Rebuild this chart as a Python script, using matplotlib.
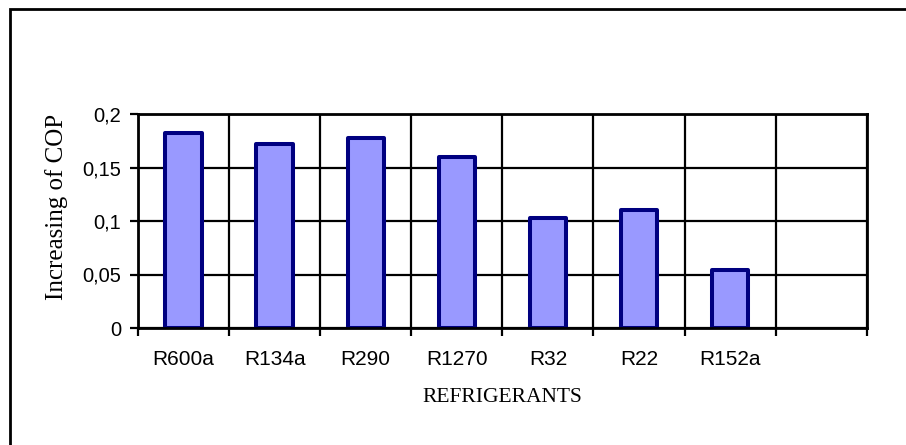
import matplotlib
matplotlib.use("Agg")
import matplotlib.pyplot as plt
from matplotlib.patches import Rectangle
import numpy as np

categories = ["R600a", "R134a", "R290", "R1270", "R32", "R22", "R152a", ""]
values = [0.182, 0.172, 0.178, 0.160, 0.103, 0.110, 0.054]
yticks = [0, 0.05, 0.10, 0.15, 0.20]
ytick_labels = ["0", "0,05", "0,1", "0,15", "0,2"]
xlabel = "REFRIGERANTS"
ylabel = "Increasing of COP"

fig = plt.figure(figsize=(9.06, 4.45), dpi=100)
ax = fig.add_axes([138/906, 1-328/445, (866.7-138)/906, (328-114)/445])

n = len(categories)
centers = np.arange(n) + 0.5
bars = ax.bar(centers[:len(values)], values, width=0.4, color="#9999FF",
              edgecolor="#000080", linewidth=2.9, zorder=3)
for b in bars:
    b.set_joinstyle("round")

ax.set_xlim(0, n)
ax.set_ylim(0, 0.2)
ax.set_yticks(yticks)
ax.set_yticklabels(ytick_labels, fontfamily="Liberation Sans", fontsize=14.5)
ax.set_xticks(np.arange(n + 1))
ax.set_xticklabels([])
ax.set_xticks(centers, minor=True)
ax.set_xticklabels(categories, minor=True, fontfamily="Liberation Sans", fontsize=15)
ax.tick_params(axis="x", which="minor", length=0, pad=16)
ax.tick_params(axis="x", which="major", length=6, width=1.6, direction="out")
ax.tick_params(axis="y", length=6, width=1.6, pad=6)
ax.grid(True, which="major", color="black", linewidth=1.6, zorder=0)
ax.set_axisbelow(True)
for s in ax.spines.values():
    s.set_linewidth(2.0)
    s.set_color("black")
    s.set_zorder(4)

fig.text(502/906, 1-397/445, xlabel, ha="center", va="center",
         fontfamily="Liberation Serif", fontsize=15.5)
fig.text(57/906, 1-206.5/445, ylabel, ha="center", va="center", rotation=90,
         fontfamily="Liberation Serif", fontsize=18)

border = Rectangle((10.3/906, -0.05), 1.1, 1-9/445+0.05, transform=fig.transFigure,
                   fill=False, edgecolor="black", linewidth=2.0, clip_on=False)
fig.patches.append(border)

fig.savefig("out.png", dpi=100)
